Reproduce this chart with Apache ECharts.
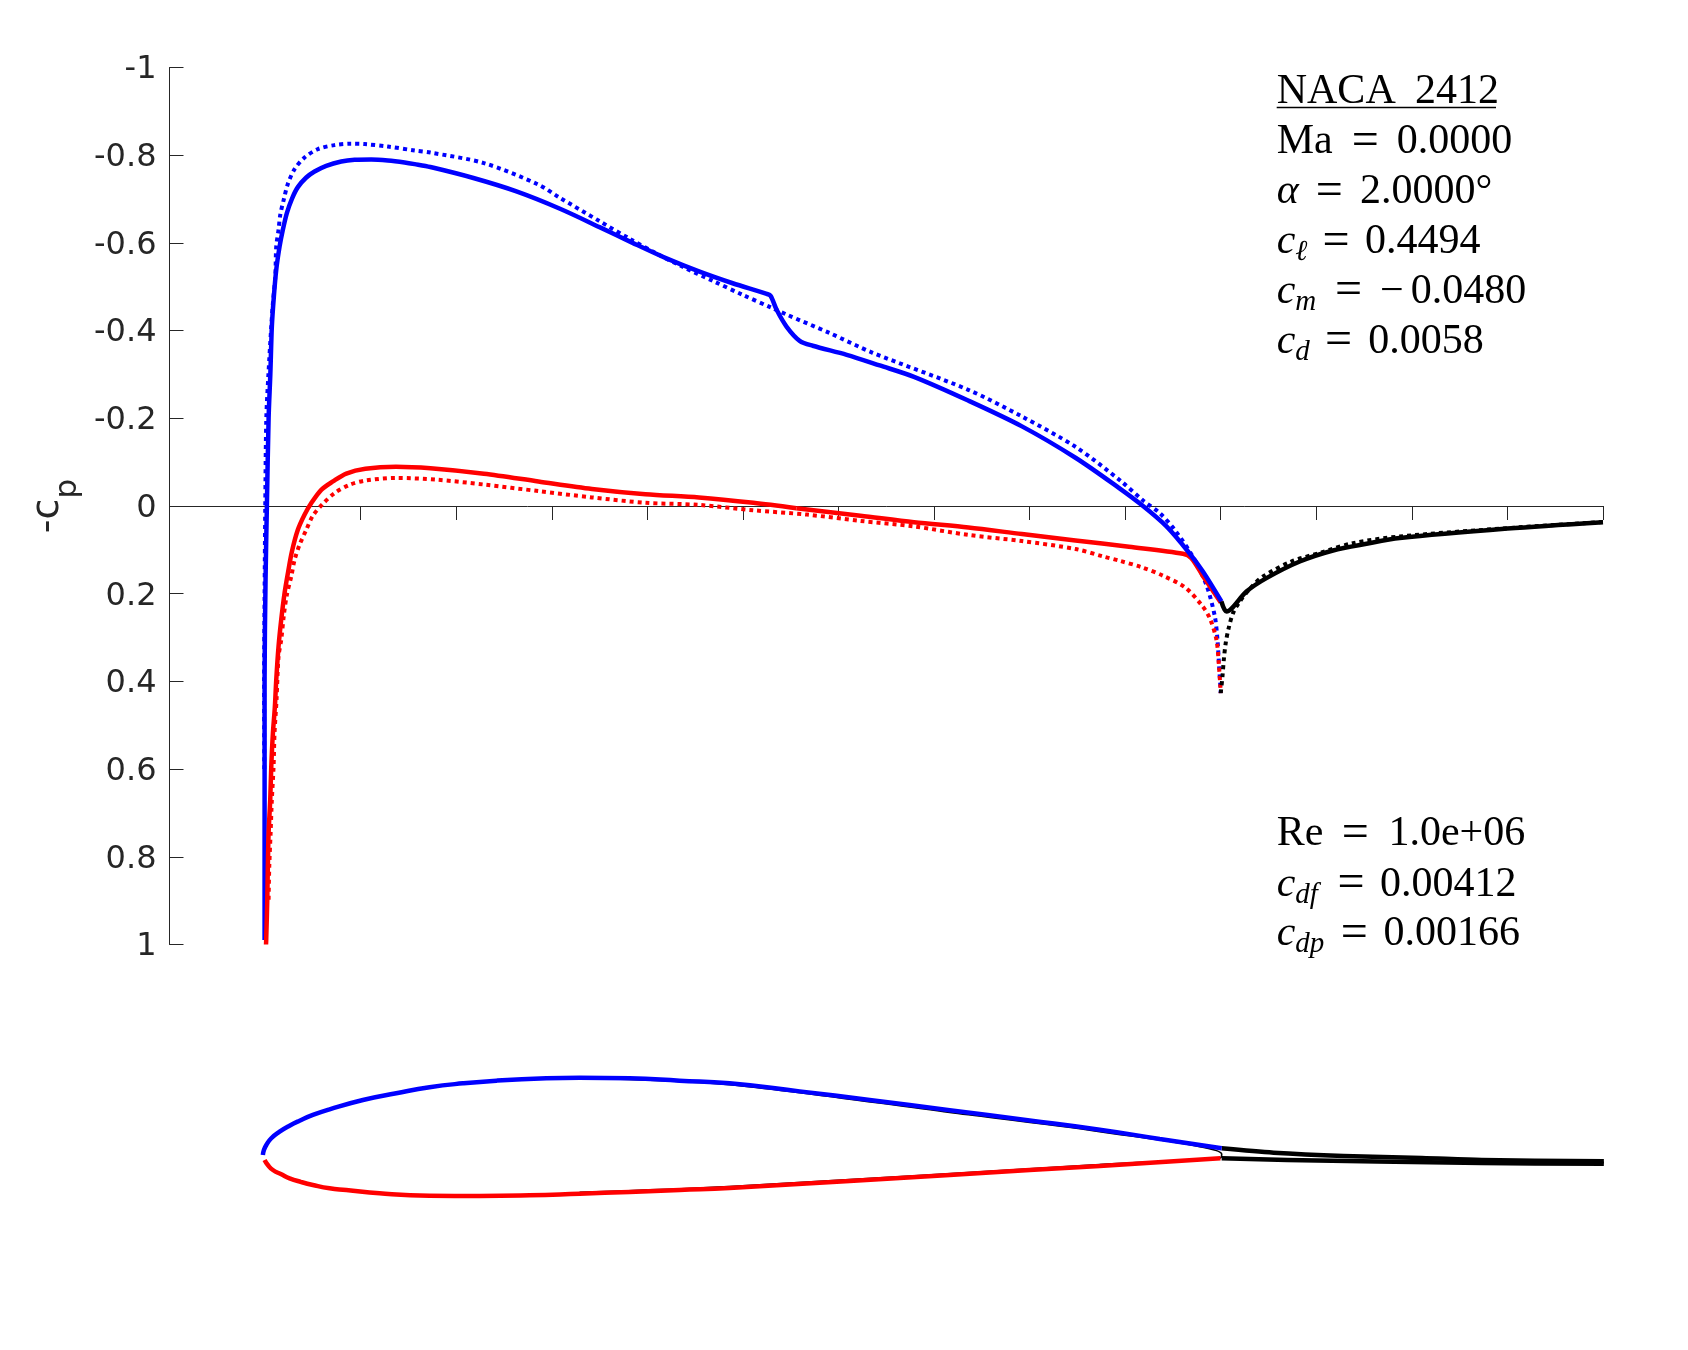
<!DOCTYPE html>
<html>
<head>
<meta charset="utf-8">
<style>html,body{margin:0;padding:0;background:#fff}#c{width:1688px;height:1350px}</style>
<script src="https://cdn.jsdelivr.net/npm/echarts@6/dist/echarts.min.js"></script>
</head>
<body>
<div id="c"></div>
<script>
// Pressure distribution: viscous (solid) upper / lower / wake
const upperX = [-0.0005,-0.0005,0.0005,0.0019,0.0037,0.0055,0.0071,0.0092,0.0117,0.0152,0.0186,0.0228,0.0281,0.0343,0.0431,0.0518,0.064,0.0797,0.0937,0.1111,0.1285,0.146,0.1565,0.173,0.218,0.263,0.308,0.350,0.3846,0.420,0.4547,0.4893,0.5249,0.5291,0.5353,0.5458,0.5594,0.573,0.6086,0.6432,0.679,0.7357,0.792,0.848,0.893,0.9187,0.943,0.9658,0.9815,1.0007];
const upperY = [0.99,0.396,0.168,0,-0.2,-0.3,-0.4094,-0.4778,-0.5387,-0.5918,-0.6299,-0.668,-0.7006,-0.7272,-0.7491,-0.7628,-0.7758,-0.7856,-0.7895,-0.7902,-0.7879,-0.7834,-0.7797,-0.773,-0.748,-0.7175,-0.6785,-0.636,-0.6,-0.5646,-0.5344,-0.508,-0.4838,-0.479,-0.4474,-0.4087,-0.3767,-0.3654,-0.3448,-0.3205,-0.2945,-0.2405,-0.1816,-0.11,-0.042,0,0.046,0.1037,0.15,0.2178];
const lowerX = [0.001,0.0012,0.0023,0.0029,0.0037,0.0054,0.0065,0.0082,0.0102,0.0117,0.0141,0.0169,0.0204,0.0239,0.0281,0.0343,0.0413,0.0484,0.0588,0.071,0.085,0.105,0.137,0.173,0.229,0.286,0.342,0.398,0.454,0.511,0.556,0.623,0.679,0.736,0.792,0.848,0.904,0.9605,0.9693,0.9815,1.0];
const lowerY = [1,0.989,0.898,0.822,0.746,0.67,0.594,0.518,0.46,0.3964,0.3204,0.2595,0.1987,0.153,0.1038,0.0543,0.02,-0.0066,-0.0369,-0.0559,-0.074,-0.085,-0.0895,-0.086,-0.0736,-0.056,-0.039,-0.027,-0.0196,-0.0074,0.005,0.022,0.037,0.049,0.064,0.0785,0.093,0.109,0.119,0.16,0.22];
const wakeX = [1.0007,1.006,1.0269,1.0478,1.0827,1.1175,1.1525,1.1873,1.3,1.4];
const wakeY = [0.2178,0.2406,0.195,0.1645,0.1266,0.1015,0.0862,0.0732,0.0515,0.0368];
// Inviscid (dotted) upper / lower / wake
const upperInvX = [-0.0008,-0.001,-0.0005,0.0002,0.0013,0.0035,0.0065,0.0082,0.0107,0.0117,0.0141,0.0159,0.0197,0.0239,0.0309,0.0413,0.0553,0.0727,0.0895,0.1041,0.1285,0.1565,0.173,0.229,0.286,0.308,0.350,0.3815,0.4097,0.437,0.4684,0.4998,0.5301,0.5458,0.5907,0.6358,0.7357,0.792,0.848,0.896,0.9187,0.9362,0.9518,0.9707,0.985,0.9937,0.9966,0.9982,0.9997,1.0];
const upperInvY = [0.6,0.4,0.2,0,-0.2,-0.3,-0.4094,-0.4627,-0.5234,-0.5918,-0.6299,-0.664,-0.6999,-0.7348,-0.7683,-0.7948,-0.8139,-0.823,-0.826,-0.8253,-0.8198,-0.8107,-0.806,-0.782,-0.733,-0.7035,-0.6495,-0.6095,-0.5755,-0.5455,-0.5135,-0.4815,-0.452,-0.4365,-0.3945,-0.3494,-0.265,-0.204,-0.135,-0.056,-0.0125,0.0162,0.0543,0.115,0.18,0.2504,0.305,0.362,0.4153,0.4267];
const lowerInvX = [0.0037,0.0044,0.0058,0.0071,0.0089,0.0099,0.012,0.0141,0.0169,0.0197,0.0228,0.0274,0.0309,0.0361,0.0431,0.05,0.0605,0.0727,0.0884,0.105,0.137,0.18,0.229,0.286,0.342,0.398,0.454,0.511,0.567,0.623,0.679,0.736,0.792,0.848,0.8768,0.8943,0.917,0.9396,0.9623,0.9798,0.9885,0.9955,0.9979,0.9997,1.0];
const lowerInvY = [0.898,0.822,0.746,0.67,0.594,0.518,0.442,0.3432,0.3051,0.2481,0.2025,0.1608,0.1227,0.0885,0.0543,0.0223,-0.005,-0.0294,-0.0483,-0.058,-0.064,-0.06,-0.049,-0.034,-0.0196,-0.0074,-0.0025,0.0098,0.0196,0.034,0.0466,0.066,0.08,0.098,0.115,0.125,0.1394,0.159,0.185,0.2253,0.2557,0.305,0.358,0.415,0.4267];
const wakeInvX = [1.0,1.0018,1.0032,1.0052,1.0083,1.0129,1.0199,1.0321,1.0443,1.0739,1.1054,1.1385,1.1873,1.3,1.4];
const wakeInvY = [0.4267,0.389,0.351,0.3127,0.2785,0.2443,0.2178,0.185,0.1608,0.1266,0.106,0.0846,0.0695,0.0505,0.0365];
// Airfoil and boundary layer shapes
const foilUpX = [-0.0023,-0.0012,0.0013,0.0065,0.0152,0.0256,0.0361,0.05,0.0675,0.1024,0.1373,0.1721,0.207,0.242,0.2943,0.3291,0.3815,0.4338,0.4861,0.5594,0.6327,0.7164,0.8001,0.8734,0.9362,1.001];
const foilUpY = [0,0.0052,0.0105,0.0175,0.0244,0.0307,0.0359,0.0419,0.0478,0.0576,0.0646,0.0709,0.075,0.0778,0.0803,0.0809,0.0803,0.0778,0.075,0.0666,0.0576,0.0468,0.0362,0.0265,0.0168,0.007];
const foilLoX = [-0.0005,0.0029,0.0082,0.017,0.0256,0.0379,0.05,0.0675,0.085,0.1198,0.1721,0.2245,0.2768,0.3291,0.3815,0.4338,0.4861,0.6117,0.7164,0.8001,0.8734,0.9997];
const foilLoY = [-0.0052,-0.0105,-0.0157,-0.0202,-0.0244,-0.0283,-0.0314,-0.0349,-0.0366,-0.0401,-0.0426,-0.0429,-0.0422,-0.0405,-0.0387,-0.0366,-0.0345,-0.0272,-0.021,-0.0157,-0.0115,-0.0035];
const wakeUpX = [1.001,1.0554,1.1285,1.2104,1.2732,1.4009];
const wakeUpY = [0.007,0.0024,-0.001,-0.0031,-0.0052,-0.0066];
const wakeLoX = [1.001,1.0696,1.1638,1.2732,1.4009];
const wakeLoY = [-0.0035,-0.0052,-0.0068,-0.0084,-0.0091];
const chordX = [0.3291,0.4861,0.7164,0.8734,1.001,0.9997,0.8734,0.4861,0.3291];
const chordY = [0.0805,0.0737,0.0445,0.0245,0.001,-0.0031,-0.0099,-0.033,-0.039];

const zip = (a, b) => a.map((v, i) => [v, b[i]]);
const BLUE = '#0000ff', RED = '#ff0000', BLACK = '#000000', AXIS = '#262626';
const L = 169.5, W = 1433.5;
const SPLIT = 30; // lower surface: leading part is drawn above the upper curve, trailing part below it

function line(name, xs, ys, color, dotted, grid, width, smooth) {
  return {
    name, type: 'line', xAxisIndex: grid, yAxisIndex: grid,
    data: zip(xs, ys), showSymbol: false, symbol: 'none', silent: true,
    clip: true, smooth: smooth === undefined ? 0.3 : smooth,
    lineStyle: { color, width: width || (dotted ? 4 : 4.5), type: dotted ? [4, 4] : 'solid', cap: 'butt', join: 'round' }
  };
}

// text blocks
const serif = '"Liberation Serif"';
const FS = 42;
const M = { fontFamily: serif, fontSize: FS, lineHeight: 50, color: '#000' };
const E = Object.assign({}, M, { fontSize: 48 });
const I = Object.assign({}, M, { fontStyle: 'italic' });
const S = { fontFamily: serif, fontStyle: 'italic', fontSize: 29, lineHeight: 30, verticalAlign: 'bottom', color: '#000' };
function rich(extra) {
  const r = {};
  Object.keys(extra).forEach(k => { r[k] = Object.assign({}, extra[k][0], { width: extra[k][1] }); });
  return r;
}
function textEl(str, r, x, baseline) {
  return {
    type: 'text', x, y: baseline - 39, silent: true, z: 50,
    style: { text: str, rich: r, fontFamily: serif, fontSize: FS, fill: '#000', align: 'left', verticalAlign: 'top' }
  };
}
const X0 = 1276.7;
const graphics = [
  textEl('{a|NACA}{v|2412}', rich({ a: [M, 138.3], v: [M, 90] }), X0, 105.5),
  { type: 'line', silent: true, z: 50, shape: { x1: X0, y1: 107.5, x2: 1496, y2: 107.5 }, style: { stroke: '#000', lineWidth: 1.6 } },
  textEl('{a|Ma}{e|=}{v|0.0000}', rich({ a: [M, 75], e: [E, 45], v: [M, 130] }), X0, 156),
  textEl('{a|α}{e|=}{v|2.0000°}', rich({ a: [I, 39], e: [E, 44.3], v: [M, 140] }), X0, 206),
  textEl('{a|c}{s|ℓ}{e|=}{v|0.4494}', rich({ a: [I, 18.5], s: [S, 27.2], e: [E, 42.7], v: [M, 130] }), X0, 256),
  textEl('{a|c}{s|m}{e|=}{n|−}{v|0.0480}', rich({ a: [I, 18.5], s: [S, 39.8], e: [E, 45], n: [M, 30.7], v: [M, 130] }), X0, 305.5),
  textEl('{a|c}{s|d}{e|=}{v|0.0058}', rich({ a: [I, 18.5], s: [S, 29.8], e: [E, 43.3], v: [M, 130] }), X0, 355.5),
  textEl('{a|Re}{e|=}{v|1.0e+06}', rich({ a: [M, 65], e: [E, 46.7], v: [M, 150] }), X0, 848),
  textEl('{a|c}{s|df}{e|=}{v|0.00412}', rich({ a: [I, 18.5], s: [S, 42.2], e: [E, 42.7], v: [M, 150] }), X0, 898.7),
  textEl('{a|c}{s|dp}{e|=}{v|0.00166}', rich({ a: [I, 18.5], s: [S, 45.5], e: [E, 42.7], v: [M, 150] }), X0, 948)
];

const chart = echarts.init(document.getElementById('c'), null, { width: 1688, height: 1350 });
chart.setOption({
  animation: false,
  backgroundColor: '#ffffff',
  grid: [
    { left: L, width: W, top: 67.5, height: 877, containLabel: false },
    { left: L, width: W, top: 963.9, height: 382.2, containLabel: false }
  ],
  xAxis: [
    {
      gridIndex: 0, type: 'value', min: -0.1, max: 1.4, interval: 0.1, position: 'bottom',
      axisLine: { show: true, onZero: true, lineStyle: { color: AXIS, width: 1 } },
      axisTick: { show: true, inside: false, length: 14, lineStyle: { color: AXIS, width: 1 } },
      axisLabel: { show: false }, splitLine: { show: false }
    },
    { gridIndex: 1, type: 'value', min: -0.1, max: 1.4, show: false, splitLine: { show: false } }
  ],
  yAxis: [
    {
      gridIndex: 0, type: 'value', min: -1, max: 1, interval: 0.2, inverse: true, position: 'left',
      axisLine: { show: true, onZero: false, lineStyle: { color: AXIS, width: 1 } },
      axisTick: { show: true, inside: true, length: 14, lineStyle: { color: AXIS, width: 1 } },
      axisLabel: {
        show: true, fontFamily: 'DejaVu Sans', fontSize: 32, color: AXIS, margin: 13,
        formatter: v => '{t|' + v + '}',
        rich: { t: { fontFamily: 'DejaVu Sans', fontSize: 32, color: AXIS, padding: [5, 0, 0, 0] } }
      },
      splitLine: { show: false },
      name: '{b|-c}{p|p}', nameLocation: 'middle', nameRotate: 90, nameGap: 80,
      nameTextStyle: {
        rich: {
          b: { fontFamily: 'DejaVu Sans', fontSize: 38, lineHeight: 70, color: AXIS },
          p: { fontFamily: 'DejaVu Sans', fontSize: 31, lineHeight: 31, verticalAlign: 'bottom', color: AXIS }
        }
      }
    },
    { gridIndex: 1, type: 'value', min: -0.2, max: 0.2, show: false, splitLine: { show: false } }
  ],
  series: [
    line('cp upper inviscid', upperInvX, upperInvY, BLUE, true, 0),
    line('cp lower inviscid', lowerInvX, lowerInvY, RED, true, 0),
    line('cp wake inviscid', wakeInvX, wakeInvY, BLACK, true, 0),
    line('cp lower aft', lowerX.slice(SPLIT), lowerY.slice(SPLIT), RED, false, 0),
    line('cp upper', upperX, upperY, BLUE, false, 0),
    line('cp lower fore', lowerX.slice(0, SPLIT + 1), lowerY.slice(0, SPLIT + 1), RED, false, 0),
    line('cp wake', wakeX, wakeY, BLACK, false, 0),
    line('airfoil', chordX, chordY, BLACK, false, 1, 1.6),
    line('wake upper', wakeUpX, wakeUpY, BLACK, false, 1),
    line('wake lower', wakeLoX, wakeLoY, BLACK, false, 1),
    line('lower surface', foilLoX, foilLoY, RED, false, 1, 0, 0.5),
    line('upper surface', foilUpX, foilUpY, BLUE, false, 1, 0, 0.5)
  ],
  graphic: graphics
});
</script>
</body>
</html>
